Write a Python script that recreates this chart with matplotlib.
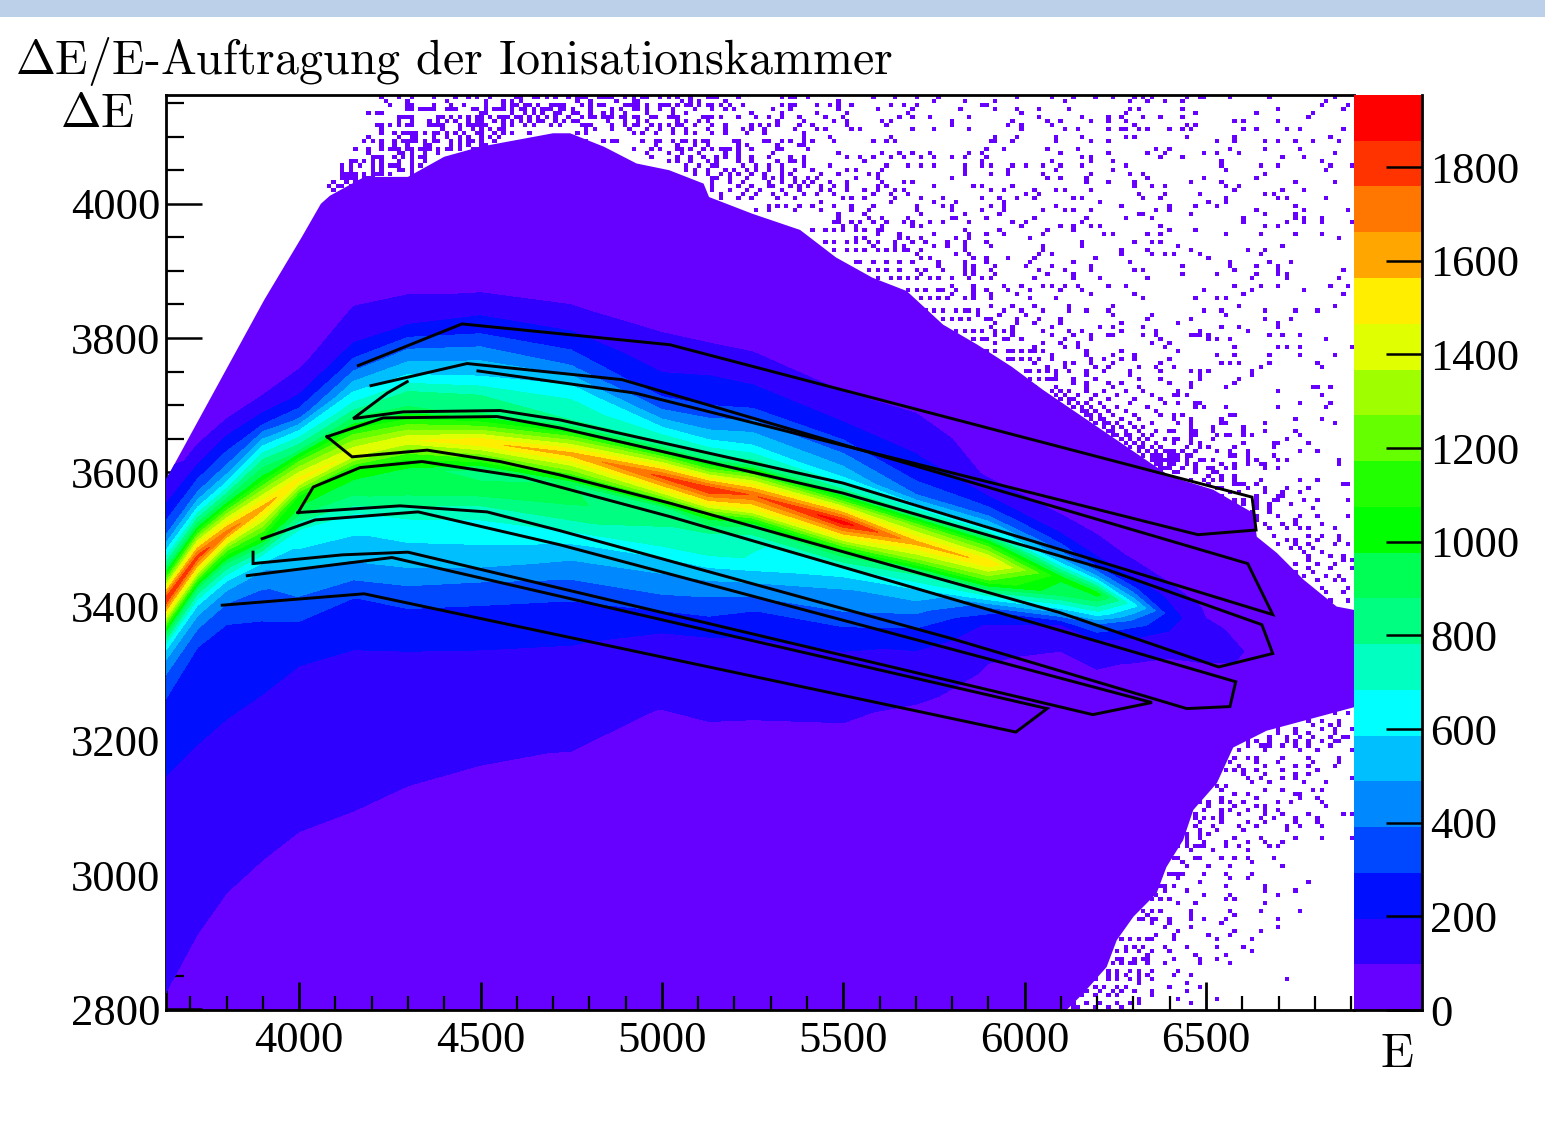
import matplotlib
matplotlib.use('Agg')
import matplotlib.pyplot as plt
from matplotlib.colors import ListedColormap, BoundaryNorm
from matplotlib.patches import Polygon, Rectangle
from matplotlib.ticker import MultipleLocator
import numpy as np

plt.rcParams['mathtext.fontset'] = 'cm'

# band colours of the palette, bottom to top
band_colors = ['#6600ff', '#3000ff', '#0010ff', '#0048ff', '#0088ff', '#00bfff', '#00ffff',
               '#00ffc0', '#00ff80', '#00ff55', '#00ff00', '#22ff00', '#66ff00', '#9fff00',
               '#e0ff00', '#ffee00', '#ffa600', '#ff7700', '#ff3300', '#ff0000']
z_max = 1954

# counts read column by column, rows are distances from the main ridge
col_E = [3625, 3720, 3800, 3900, 4000, 4150, 4300, 4500, 4750, 5000, 5130, 5250, 5500, 5700, 5900,
         6100, 6200, 6300, 6400, 6500, 6920]
ridge_dE = [3404, 3474, 3510, 3547, 3589, 3629, 3648, 3645, 3627, 3593, 3574, 3566, 3525, 3495, 3465,
            3443, 3419, 3402, 3388, 3373, 3313]
row_offset = [800, 500, 330, 270, 220, 170, 130, 95, 70, 45, 25, 0, -25, -45, -70, -95, -130,
              -170, -220, -270, -350, -450, -600, -800, -1100]
counts = [
    [60, 60, 60, 60, 90, 110, 240, 400, 620, 900, 1300, 1850, 1400, 1000, 620, 450, 320, 260, 220, 190, 160, 125, 95, 60, 40],
    [50, 50, 50, 50, 50, 90, 220, 400, 620, 950, 1350, 1800, 1350, 900, 600, 440, 300, 240, 230, 200, 160, 120, 90, 60, 40],
    [50, 50, 50, 50, 60, 95, 250, 420, 630, 950, 1320, 1700, 1200, 880, 600, 430, 300, 260, 240, 200, 150, 115, 85, 50, 40],
    [50, 50, 50, 50, 55, 90, 240, 560, 800, 1000, 1300, 1600, 1300, 1050, 680, 480, 360, 290, 250, 200, 150, 115, 80, 50, 40],
    [50, 50, 50, 50, 60, 85, 180, 350, 620, 850, 1200, 1500, 1050, 950, 700, 610, 500, 400, 270, 200, 150, 115, 80, 50, 40],
    [50, 50, 50, 60, 95, 170, 340, 560, 720, 950, 1200, 1450, 1050, 950, 850, 650, 570, 460, 280, 210, 160, 120, 80, 50, 40],
    [50, 50, 50, 55, 90, 200, 420, 600, 800, 900, 1150, 1450, 1100, 950, 950, 800, 620, 560, 380, 240, 160, 115, 75, 50, 40],
    [50, 50, 50, 55, 100, 250, 450, 600, 780, 850, 1150, 1550, 1150, 800, 950, 780, 620, 560, 340, 240, 150, 105, 70, 50, 40],
    [50, 50, 50, 55, 100, 230, 400, 640, 720, 800, 1200, 1600, 1250, 880, 900, 800, 600, 440, 290, 210, 130, 95, 60, 50, 40],
    [50, 50, 50, 55, 90, 170, 240, 420, 620, 850, 1300, 1780, 1350, 850, 790, 730, 530, 410, 210, 150, 95, 70, 55, 45, 40],
    [50, 50, 50, 55, 95, 195, 270, 450, 615, 850, 1300, 1850, 1400, 950, 740, 700, 510, 350, 195, 140, 95, 75, 55, 45, 40],
    [50, 50, 50, 55, 85, 180, 290, 480, 610, 850, 1300, 1750, 1400, 900, 690, 680, 490, 300, 180, 130, 90, 70, 55, 45, 40],
    [50, 50, 50, 50, 65, 130, 260, 430, 560, 830, 1350, 1900, 1400, 950, 650, 500, 400, 230, 150, 110, 75, 60, 50, 45, 40],
    [50, 50, 50, 50, 60, 130, 200, 280, 400, 760, 1250, 1600, 1250, 800, 580, 440, 280, 170, 110, 80, 65, 55, 50, 45, 40],
    [50, 50, 50, 50, 50, 65, 85, 210, 390, 700, 1150, 1550, 1180, 750, 330, 170, 110, 85, 70, 60, 55, 50, 45, 45, 40],
    [50, 50, 50, 50, 50, 55, 70, 95, 170, 330, 520, 1000, 900, 600, 190, 110, 80, 65, 55, 50, 50, 50, 45, 45, 40],
    [50, 50, 50, 50, 50, 55, 65, 85, 130, 240, 500, 1020, 700, 390, 190, 115, 80, 60, 55, 50, 50, 50, 45, 45, 40],
    [50, 50, 50, 50, 50, 50, 55, 70, 90, 170, 310, 620, 350, 210, 120, 85, 70, 55, 50, 50, 50, 50, 45, 45, 40],
    [50, 50, 50, 50, 50, 50, 55, 60, 70, 100, 170, 240, 190, 130, 90, 70, 55, 50, 50, 50, 50, 50, 45, 45, 40],
    [45, 45, 45, 45, 45, 50, 50, 55, 60, 70, 85, 105, 115, 110, 85, 65, 55, 50, 50, 45, 45, 45, 45, 45, 40],
    [45, 45, 45, 45, 45, 45, 45, 45, 45, 45, 45, 45, 45, 45, 45, 45, 45, 45, 45, 45, 45, 45, 45, 45, 40],
]

# outline of the closed, filled part of the histogram
filled_E = [3633, 3633, 3644, 3904, 4008, 4060, 4085, 4180, 4300, 4400, 4500, 4600, 4700, 4747,
            4840, 4930, 5020, 5115, 5130, 5250, 5381, 5480, 5580, 5675, 5775, 5870, 5965, 6050,
            6401, 6520, 6631, 6640, 6695, 6769, 6860, 6908, 6908, 6667, 6575, 6530, 6465, 6437,
            6391, 6364, 6300, 6254, 6226, 6162, 6116]
filled_dE = [2799, 3590, 3600, 3857, 3951, 4000, 4012, 4040, 4040, 4070, 4085, 4095, 4105, 4105,
             4085, 4060, 4050, 4030, 4010, 3985, 3961, 3920, 3890, 3870, 3820, 3790, 3757, 3723,
             3594, 3574, 3539, 3504, 3480, 3440, 3400, 3395, 3250, 3215, 3190, 3137, 3097, 3052,
             3012, 2973, 2938, 2903, 2863, 2824, 2799]

# single filled bins outside the outline: (dE, [E, ...])
noise_top_left = [
    (4160, [4223, 4269, 4306, 4365, 4434, 4469, 4494, 4526, 4600, 4609, 4646, 4655, 4682, 4703]),
    (4153, [4234, 4296, 4411, 4512, 4563, 4586, 4609]),
    (4149, [4296, 4365, 4457, 4512, 4563, 4586, 4632, 4701, 4719, 4733]),
    (4146, [4249, 4296, 4315, 4365, 4420, 4563, 4595, 4618, 4636, 4664, 4692, 4728]),
    (4141, [4296, 4342, 4365, 4420, 4434, 4480, 4494, 4563, 4613, 4682, 4719]),
    (4138, [4315, 4329, 4356, 4402, 4494, 4512, 4540, 4554, 4586, 4623, 4646, 4673, 4692, 4728]),
    (4134, [4186, 4209, 4223, 4503, 4517, 4586, 4627, 4646, 4673, 4701, 4724]),
    (4129, [4269, 4283, 4296, 4388, 4420, 4466, 4489, 4503, 4549, 4572, 4600, 4636, 4655, 4682, 4701]),
    (4126, [4306, 4379, 4393, 4420, 4448, 4489, 4526, 4563, 4609, 4682]),
    (4122, [4269, 4315, 4361, 4384, 4402, 4434, 4466, 4489, 4503, 4540, 4563, 4581, 4609, 4636, 4655, 4673, 4701, 4728]),
    (4118, [4246, 4269, 4361, 4388, 4489, 4517, 4563, 4586, 4618, 4646, 4692, 4719]),
    (4114, [4209, 4232, 4296, 4315, 4374, 4393, 4443, 4462, 4480, 4503, 4563, 4586]),
    (4109, [4232, 4397, 4443, 4480, 4503, 4526, 4545, 4563]),
    (4106, [4260, 4283, 4296, 4342, 4379, 4411, 4425, 4499, 4563, 4581, 4636]),
    (4102, [4232, 4306, 4319, 4342, 4370, 4434, 4453, 4489, 4508, 4535, 4563]),
    (4099, [4186, 4269, 4306, 4319, 4374, 4402, 4443, 4462, 4503, 4522, 4554]),
    (4095, [4177, 4283, 4296, 4319, 4342, 4370, 4388, 4416, 4448, 4462, 4480, 4508, 4535]),
    (4091, [4200, 4223, 4260, 4315, 4342, 4466, 4503]),
    (4088, [4223, 4260, 4296, 4342, 4361, 4420, 4448, 4471, 4499, 4517]),
    (4083, [4246, 4260, 4273, 4315, 4342, 4420, 4448, 4480, 4517, 4540]),
    (4078, [4154, 4186, 4223, 4278, 4301, 4329, 4356, 4379, 4402, 4448, 4494]),
    (4073, [4186, 4195, 4273, 4287, 4315, 4351, 4388]),
    (4068, [4200, 4214, 4227, 4260, 4292, 4306, 4329, 4351]),
    (4063, [4140, 4154, 4177, 4200, 4232, 4273, 4306, 4342]),
    (4058, [4117, 4140, 4168, 4200, 4232, 4246, 4260, 4273, 4306, 4329]),
    (4052, [4117, 4145, 4200, 4232, 4273, 4292, 4306]),
    (4047, [4117, 4140, 4154, 4200, 4223, 4246, 4310]),
    (4042, [4117, 4131, 4145, 4159, 4177, 4200, 4214]),
    (4037, [4117, 4131, 4145, 4159, 4181, 4195, 4204]),
    (4032, [4094, 4131, 4154, 4168, 4232, 4260]),
    (4025, [4085, 4108, 4122, 4140, 4159, 4177, 4200, 4214, 4227]),
    (4021, [4099, 4140, 4186]),
]
noise_top_mid = [
    (4160, [4747, 4784, 4793, 4821, 4848, 4903, 4922, 4949, 4995, 5023, 5041, 5142, 5207, 5326, 5363]),
    (4156, [4761, 4775, 4839, 4857, 4899, 4926, 4963, 5018, 5073, 5124, 5147, 5349]),
    (4153, [4761, 4807, 4880, 4922, 4940, 5055, 5078, 5101, 5174]),
    (4149, [4775, 4843, 4908, 4935, 4995, 5023, 5064, 5101, 5138, 5161, 5184, 5326, 5349]),
    (4146, [4802, 4830, 4894, 4922, 4958, 5009, 5046, 5082, 5124, 5220, 5372]),
    (4140, [4756, 4802, 4857, 4885, 4926, 4940, 4963, 5000, 5032, 5092, 5138, 5170, 5197, 5303, 5358]),
    (4134, [4756, 4770, 4807, 4839, 4866, 4899, 4963, 5032, 5069, 5243, 5335]),
    (4129, [4747, 4775, 4802, 4848, 4889, 4917, 4972, 5018, 5046, 5138, 5161, 5289, 5381]),
    (4126, [4811, 4839, 4866, 4899, 4931, 4986, 5032, 5110, 5128, 5207, 5257, 5335]),
    (4121, [4752, 4770, 4848, 4894, 4931, 4963, 5037, 5069, 5101, 5124, 5317, 5390]),
    (4118, [4775, 4793, 4903, 4940, 5023, 5050, 5133, 5179, 5243, 5381, 5317]),
    (4114, [4784, 4807, 4866, 4922, 4972, 4995, 5041, 5096, 5142, 5266, 5289, 5321]),
    (4109, [4793, 4820, 4866, 4912, 4963, 4991, 5032, 5069, 5124, 5179, 5220, 5243, 5280, 5372]),
    (4102, [4761, 4788, 4917, 4949, 4986, 5032, 5069, 5096, 5142, 5170, 5229, 5280, 5395]),
    (4095, [4775, 4793, 4857, 4949, 4995, 5050, 5092, 5124, 5216, 5289, 5335]),
    (4091, [4775, 4834, 4880, 4977, 5032, 5069, 5087, 5110, 5197, 5285, 5358]),
    (4087, [4977, 5041, 5087, 5124, 5207, 5234, 5317, 5381, 5395]),
    (4083, [5000, 5050, 5073, 5114, 5161, 5179, 5207, 5326, 5404]),
    (4078, [4926, 4972, 5000, 5041, 5078, 5133, 5161, 5188, 5243, 5321]),
    (4073, [4958, 5014, 5060, 5106, 5179, 5216, 5308]),
    (4068, [4968, 5041, 5078, 5114, 5151, 5174, 5216, 5243, 5298, 5354, 5395]),
    (4063, [5023, 5046, 5078, 5128, 5151, 5207, 5252, 5317, 5358, 5372, 5395]),
    (4057, [5069, 5101, 5133, 5151, 5225, 5262, 5289, 5326, 5395]),
    (4051, [5069, 5096, 5128, 5170, 5202, 5229, 5257, 5298, 5335, 5372]),
    (4046, [5087, 5124, 5161, 5188, 5216, 5248, 5280, 5335, 5349]),
    (4040, [5133, 5156, 5183, 5234, 5280, 5308, 5335, 5372]),
    (4035, [5142, 5188, 5225, 5289, 5335, 5372, 5390]),
    (4028, [5133, 5207, 5243, 5289, 5308, 5349, 5381, 5404]),
    (4022, [5133, 5188, 5234, 5271, 5326, 5381]),
    (4015, [5161, 5225, 5262, 5303, 5344, 5390]),
    (4008, [5161, 5216, 5252, 5317, 5363]),
    (3998, [5289, 5317, 5344, 5381, 5409]),
    (3991, [5262, 5298, 5372]),
]
noise_top_right = [
    (4160, [5406, 5578, 5642, 5706, 5765, 5981, 6075, 6134, 6198, 6237, 6306, 6331, 6355, 6449, 6481, 6498, 6562, 6680, 6857]),
    (4153, [5489, 5745, 5839, 5922, 6109, 6296, 6340, 6387, 6434, 6834]),
    (4148, [5430, 5465, 5489, 5524, 5627, 5661, 5698, 5878, 5898, 6820, 6891]),
    (4140, [5489, 5593, 5688, 5824, 5922, 5981, 6035, 6119, 6291, 6316, 6434, 6695, 6882]),
    (4134, [5430, 5509, 5676, 5986, 6281, 6468, 6633, 6793]),
    (4128, [5455, 5499, 5652, 5688, 5735, 5848, 6038, 6153, 6225, 6272, 6331, 6377, 6434, 6788]),
    (4121, [5391, 5477, 5514, 5607, 5627, 5794, 5971, 6060, 6096, 6178, 6225, 6276, 6577, 6601, 6695]),
    (4114, [5418, 5514, 5617, 5804, 5957, 5991, 6073, 6306, 6449, 6468]),
    (4109, [5430, 5455, 5524, 5548, 5688, 5745, 5851, 5991, 6107, 6144, 6227, 6262, 6281, 6316, 6340, 6401, 6434, 6458, 6601, 6633, 6727, 6763, 6882]),
    (4101, [5396, 5465, 5627, 5922, 5981, 6085, 6153, 6281, 6306, 6449, 6577, 6842]),
    (4095, [5420, 5474, 5617, 5642, 5907, 6188, 6527, 6867]),
    (4090, [5391, 5420, 5583, 5922, 5971, 6085, 6225, 6577, 6660, 6704, 6741, 6798]),
    (4083, [5406, 5898, 5942, 6060, 6144, 6365, 6401, 6565, 6658, 6763]),
    (4077, [5489, 5605, 5652, 5688, 5735, 5848, 5888, 6096, 6225, 6340, 6390, 6498, 6532, 6586, 6857]),
    (4071, [5396, 5514, 5548, 5583, 5627, 5661, 5711, 5745, 5804, 5829, 5898, 6153, 6188, 6375, 6434, 6716, 6773]),
    (4065, [5396, 5558, 5885, 6075, 6178, 6247, 6537, 6818]),
    (4058, [5396, 5465, 5617, 5676, 5720, 5755, 5829, 5888, 5912, 5971, 6001, 6050, 6094, 6153, 6281, 6537, 6645, 6704, 6847, 6901]),
    (4052, [5418, 5509, 5534, 5602, 5839, 5957, 6085, 6237, 6552, 6835]),
    (4046, [5440, 5489, 5568, 5593, 5829, 5907, 5957, 6050, 6178, 6291, 6331, 6658]),
    (4038, [5406, 5430, 5534, 5593, 5804, 6060, 6096, 6166, 6340, 6496, 6633]),
    (4032, [5420, 5465, 5514, 5605, 5661, 5686, 6168, 6225, 6306, 6458, 6540, 6751, 6857]),
    (4026, [5406, 5440, 5479, 5509, 5593, 5622, 5745, 5863, 5888, 5971, 6306, 6355, 6387, 6552, 6586]),
    (4021, [5440, 5465, 5509, 5558, 5593, 5642, 5661, 5907, 5944, 6025, 6085, 6107, 6188, 6577, 6716, 6773]),
    (4015, [5430, 5479, 5578, 5627, 5676, 6001, 6035, 6311, 6387, 6481, 6658, 6685]),
    (4008, [5499, 5524, 5558, 5642, 5711, 5780, 5885, 5932, 5979, 6025, 6131, 6153, 6331, 6377, 6552, 6704, 6727, 6835]),
    (4001, [5435, 5627, 5745, 5814, 5947, 6212, 6506, 6552]),
    (3996, [5479, 5519, 5583, 5701, 5770, 5804, 5907, 5947, 6085, 6272, 6395, 6468, 6527, 6751]),
    (3990, [5440, 5524, 5568, 5701, 5804, 5888, 5947, 6050, 6107, 6131, 6178, 6365, 6401, 6633, 6773, 6887]),
    (3985, [5489, 5558, 5720, 5829, 5932, 6316, 6331, 6458, 6658, 6741]),
    (3981, [5489, 5568, 5602, 5676, 5794, 5814, 5898, 6025, 6168, 6281, 6355, 6601, 6751, 6773, 6820]),
    (3975, [5470, 5490, 5520, 5545, 5580, 5617, 5661, 5696, 5740, 5780, 5848, 5969, 6001, 6153, 6601, 6727, 6773, 6820, 6901]),
    (3969, [5499, 5538, 5607, 5686, 5720, 5991, 6097, 6134, 6178, 6201, 6377, 6668, 6693]),
    (3960, [5420, 5450, 5470, 5500, 5540, 5560, 5600, 5607, 5839, 5932, 6060, 6134, 6401, 6468]),
    (3956, [5593, 5652, 5745, 5848, 5898, 5947, 6050, 6214, 6247, 6340, 6377, 6552, 6645, 6741, 6820]),
    (3950, [5534, 5558, 5652, 5676, 5711, 5814, 5848, 6016, 6867]),
    (3945, [5450, 5470, 5509, 5540, 5568, 5600, 5640, 5696, 5730, 5784, 5834, 5898, 6153, 6306, 6355, 6377]),
    (3939, [5583, 5642, 5661, 5755, 5784, 5829, 5907, 6050, 6153, 6422, 6716]),
    (3931, [5480, 5510, 5530, 5560, 5590, 5617, 5640, 5661, 5680, 5711, 5829, 6050, 6262, 6340, 6458, 6611, 6658]),
    (3925, [5706, 5814, 5851, 6035, 6070, 6262, 6355, 6387, 6412, 6481, 6645]),
    (3919, [5711, 5735, 5853, 5893, 5952, 6030, 6198, 6506]),
    (3915, [5530, 5550, 5580, 5620, 5660, 5690]),
    (3913, [5760, 5834, 5898, 6016, 6129, 6286, 6565, 6680, 6739]),
    (3907, [5765, 5834, 5863, 5922, 6001, 6070, 6178, 6434, 6565, 6633, 6693]),
    (3900, [5570, 5600, 5620, 5650, 5700, 5730, 5770, 5829, 5863, 5907, 6035, 6109, 6188, 6306, 6331, 6575, 6693, 6882]),
    (3893, [5720, 5829, 5863, 5922, 6060, 6129, 6439, 6527, 6633, 6693, 6727]),
    (3886, [5600, 5630, 5650, 5680, 5700, 5740, 5765, 5804, 5843, 5888, 5912, 6030, 6129, 6212, 6340, 6621, 6727, 6867]),
    (3879, [5794, 5863, 5942, 6225, 6281, 6693]),
    (3874, [5804, 5853, 5991, 6050, 6075, 6107, 6144, 6575, 6645, 6847, 6891]),
    (3868, [5680, 5700, 5730, 5760, 5780, 5814, 5863, 5893, 5957, 6016, 6094, 6158, 6496, 6621, 6773]),
    (3863, [5804, 5863, 5912, 5981, 6188, 6306, 6601, 6882]),
    (3856, [5720, 5740, 5760, 5790, 5830, 5863, 5907, 6011, 6085, 6331, 6468, 6527, 6552]),
    (3849, [5907, 5962, 6030, 6119, 6237, 6586, 6855]),
    (3843, [5730, 5750, 5770, 5810, 5830, 5850, 5873, 5942, 5996, 6050, 6119, 6166, 6225, 6496, 6540, 6668, 6751, 6808]),
    (3837, [5873, 5932, 6001, 6247, 6350, 6559]),
    (3829, [5780, 5800, 5820, 5850, 5890, 5912, 5981, 6038, 6094, 6340, 6458, 6658, 6739]),
    (3825, [5920, 5976, 6030, 6104, 6262, 6424, 6704]),
    (3818, [5912, 5962, 6075, 6203, 6237, 6331, 6547, 6586, 6695]),
    (3813, [5810, 5830, 5860, 5888, 5920, 5940, 5971, 6050, 6119, 6158, 6272, 6365, 6481, 6611]),
    (3807, [5962, 6075, 6225, 6247, 6463, 6508, 6680, 6716, 6763]),
    (3802, [5922, 5971, 6139, 6178, 6331, 6365, 6468, 6481]),
    (3798, [5860, 5880, 5898, 5940, 5960, 5990, 6109, 6178, 6377, 6508, 6532, 6562, 6835]),
    (3792, [5922, 6050, 6099, 6144, 6345, 6401]),
    (3786, [6021, 6109, 6144, 6387, 6577, 6693, 6727, 6763, 6901]),
    (3780, [5900, 5920, 5950, 5970, 5990, 6011, 6030, 6050, 6168, 6272, 6424]),
    (3775, [6080, 6168, 6242, 6306, 6527, 6577, 6680, 6763, 6855]),
    (3767, [5950, 5970, 5990, 6020, 6040, 6070, 6183, 6222, 6272, 6306, 6401]),
    (3762, [6030, 6109, 6139, 6178, 6247, 6377, 6540, 6565, 6586, 6680, 6810]),
    (3757, [6060, 6109, 6198, 6227, 6316, 6365, 6412, 6645, 6820]),
    (3750, [6000, 6020, 6040, 6060, 6090, 6119, 6168, 6217, 6291, 6377, 6454, 6481, 6508, 6621]),
    (3744, [6089, 6168, 6291, 6481, 6621]),
    (3738, [6020, 6040, 6060, 6070, 6090, 6139, 6198, 6316, 6377, 6481, 6586]),
    (3730, [6129, 6168, 6227, 6272, 6395, 6458, 6577]),
    (3725, [6021, 6089, 6168, 6247, 6316, 6463, 6552, 6798, 6810, 6847]),
]
noise_fringe = [
    (3720, [6075, 6098, 6122, 6170, 6220, 6280, 6330]), (3714, [6086, 6110, 6146, 6194, 6260, 6350]),
    (3708, [6098, 6122, 6134, 6182, 6230, 6300, 6370]), (3702, [6122, 6146, 6170, 6206, 6290, 6390]),
    (3696, [6134, 6158, 6182, 6218, 6254, 6340]), (3690, [6158, 6170, 6194, 6230, 6278, 6360]),
    (3684, [6170, 6182, 6206, 6242, 6302, 6380]), (3678, [6182, 6206, 6218, 6266, 6314]),
    (3672, [6194, 6218, 6230, 6254, 6290, 6350]), (3666, [6218, 6242, 6266, 6302, 6326]),
    (3660, [6230, 6242, 6278, 6314, 6362, 6395]), (3654, [6242, 6254, 6278, 6290, 6326, 6350]),
    (3648, [6266, 6290, 6314, 6338, 6385]), (3642, [6278, 6302, 6326, 6362]),
    (3636, [6290, 6314, 6326, 6350, 6374]), (3630, [6314, 6338, 6362]),
    (3624, [6326, 6350, 6374, 6395]), (3618, [6350, 6362, 6385]), (3612, [6362, 6374, 6398]),
    (3606, [6374, 6398]),
    (3628, [6341, 6382, 6401, 6437, 6465, 6529]), (3623, [6368, 6419, 6456, 6575, 6612]),
    (3616, [6373, 6401, 6428, 6483, 6520, 6639]), (3609, [6382, 6437, 6511, 6575]),
    (3603, [6378, 6419, 6474, 6529]), (3596, [6511, 6538, 6575]), (3589, [6401, 6456, 6520, 6584]),
    (3583, [6447, 6594, 6639]), (3574, [6456, 6529]),
]
noise_right = [
    (3720, [6424, 6704]), (3712, [6406, 6424, 6447, 6819]), (3704, [6424, 6475, 6484, 6759, 6847]),
    (3697, [6470, 6493, 6553, 6695, 6833]), (3683, [6415, 6433, 6566, 6576]),
    (3677, [6415, 6461, 6539, 6746, 6819]), (3671, [6424, 6461, 6539, 6557, 6658, 6856]),
    (3666, [6461, 6516, 6603]), (3659, [6406, 6456, 6470, 6516, 6603, 6658, 6741]),
    (3653, [6456, 6470, 6530, 6553, 6566, 6599, 6631, 6755]), (3646, [6406, 6424, 6461, 6516, 6727]),
    (3640, [6415, 6461, 6479, 6608, 6681, 6704, 6787]), (3634, [6447, 6479, 6507, 6576, 6681]),
    (3628, [6406, 6433, 6475, 6571, 6617, 6764, 6810]), (3623, [6415, 6447, 6566, 6686]),
    (3616, [6415, 6447, 6484, 6497, 6612, 6640, 6695, 6718, 6870]),
    (3610, [6415, 6447, 6475, 6539, 6576, 6612, 6649, 6668, 6870]),
    (3605, [6433, 6470, 6516, 6553, 6668, 6695]), (3599, [6415, 6475, 6516]),
    (3591, [6493, 6539, 6576, 6649, 6764, 6810]), (3584, [6502, 6576, 6608, 6888, 6879]),
    (3576, [6539, 6612, 6658, 6718, 6787]), (3572, [6562, 6585, 6658, 6713, 6764]),
    (3564, [6525, 6548, 6640, 6695, 6713]), (3560, [6608, 6640, 6773, 6704]),
    (3557, [6539, 6576, 6640, 6686, 6801, 6893]), (3550, [6530, 6576, 6608, 6640, 6677, 6732]),
    (3545, [6539, 6576, 6640, 6677, 6796]), (3539, [6631, 6677]),
    (3533, [6548, 6603, 6640, 6695, 6764, 6810, 6893]), (3527, [6576, 6640, 6746]),
    (3522, [6631, 6658, 6713, 6741, 6819]), (3514, [6677, 6723, 6759, 6787, 6856]),
    (3507, [6686, 6787, 6815, 6865]), (3499, [6723, 6750, 6805, 6870]),
    (3493, [6695, 6750, 6787, 6856, 6893]), (3489, [6732, 6759, 6796]), (3482, [6769, 6815]),
    (3476, [6778, 6842, 6879]), (3470, [6787, 6879, 6902]), (3463, [6750, 6860, 6805]),
    (3457, [6778, 6842, 6902]), (3451, [6750, 6796]), (3445, [6769, 6833, 6870]),
    (3437, [6750, 6805, 6851, 6879]), (3427, [6769, 6824, 6893]), (3420, [6833, 6883]),
    (3407, [6741, 6842, 6888]),
]
noise_low = [
    (3244, [6741, 6869]), (3239, [6732, 6773, 6851, 6892]), (3231, [6777, 6814, 6869]),
    (3225, [6681, 6800, 6837, 6869]), (3219, [6695, 6741, 6814, 6851, 6897]),
    (3212, [6630, 6695, 6741, 6787, 6851]), (3206, [6589, 6676, 6722, 6760, 6800, 6840, 6879, 6890]),
    (3199, [6612, 6635, 6680, 6720, 6750, 6777, 6820, 6860, 6865]),
    (3191, [6620, 6650, 6667, 6680, 6710, 6713, 6741, 6787, 6837]),
    (3184, [6589, 6667, 6759, 6805, 6897]), (3177, [6580, 6610, 6612, 6640, 6713, 6777, 6869]),
    (3169, [6566, 6644, 6699, 6800, 6865]), (3162, [6594, 6658, 6745, 6787, 6851]),
    (3154, [6529, 6550, 6580, 6600, 6640, 6713, 6805]), (3149, [6502, 6603, 6667, 6750, 6787]),
    (3143, [6428, 6612, 6649, 6713, 6750, 6901]), (3137, [6621, 6676, 6773, 6833]),
    (3130, [6535, 6560]), (3128, [6548, 6667, 6713, 6791, 6819]), (3122, [6419, 6575, 6612, 6741, 6764]),
    (3116, [6539, 6640, 6764, 6810]), (3109, [6474, 6485, 6510, 6545, 6566, 6603, 6704, 6732, 6814]),
    (3103, [6437, 6511, 6575, 6640, 6667, 6833]), (3097, [6493, 6539, 6566, 6617, 6667, 6704]),
    (3090, [6474, 6539, 6594, 6667, 6713, 6787, 6879, 6901]),
    (3085, [6470, 6495, 6520]), (3083, [6520, 6543, 6649, 6681, 6750, 6810]),
    (3077, [6483, 6543, 6612, 6667, 6741, 6805]), (3071, [6474, 6520, 6594, 6640, 6718, 6764, 6819]),
    (3065, [6392, 6483, 6529, 6603, 6722]), (3060, [6445, 6480, 6510]),
    (3057, [6447, 6483, 6584, 6649, 6750, 6819, 6901]),
    (3050, [6447, 6493, 6557, 6612, 6667, 6713]), (3042, [6419, 6445, 6470, 6483, 6490, 6557, 6594, 6676, 6704]),
    (3035, [6456, 6520, 6617]), (3027, [6483, 6612]), (3022, [6405, 6425, 6470, 6548, 6584, 6681]),
    (3018, [6437, 6630]), (3010, [6447, 6502, 6566, 6713]), (3003, [6395, 6415, 6428, 6440, 6493, 6557, 6630]),
    (2995, [6428, 6566, 6617]), (2990, [6483, 6787]), (2983, [6370, 6385, 6410, 6557, 6658]),
    (2978, [6392, 6447, 6658, 6741]), (2970, [6364, 6493, 6566, 6704]), (2964, [6355, 6380, 6395, 6401, 6557, 6575]),
    (2957, [6428, 6474, 6658]), (2948, [6330, 6345, 6355, 6370, 6456, 6566, 6649, 6759]), (2940, [6336, 6456, 6575]),
    (2933, [6310, 6330, 6346, 6365, 6401, 6456, 6497, 6557, 6704]), (2926, [6346, 6401, 6539]), (2921, [6382, 6456, 6704]),
    (2916, [6428, 6575, 6649]), (2909, [6364, 6410, 6506, 6566]), (2903, [6270, 6290, 6318, 6341, 6346, 6414, 6529, 6621]),
    (2894, [6280, 6300, 6325, 6392, 6447, 6529, 6598]), (2888, [6309, 6401, 6621]),
    (2885, [6250, 6280, 6318, 6355]), (2881, [6336, 6474, 6552]),
    (2875, [6250, 6265, 6300, 6325, 6336, 6410, 6483, 6529]), (2866, [6240, 6265, 6285, 6300, 6340, 6382, 6483, 6566]),
    (2858, [6230, 6250, 6290, 6310, 6346, 6419]), (2851, [6235, 6260, 6275, 6309, 6335, 6405, 6460]),
    (2845, [6200, 6225, 6260, 6290, 6318, 6346, 6722]), (2839, [6314, 6447]), (2835, [6190, 6215, 6250, 6275]),
    (2831, [6401, 6483]), (2826, [6170, 6210, 6245, 6265, 6300, 6355, 6447]), (2819, [6160, 6195, 6230, 6250, 6355]),
    (2814, [6318, 6424, 6529]), (2810, [6140, 6175, 6210, 6250, 6290]), (2806, [6318, 6456]),
    (2803, [6130, 6150, 6190, 6235, 6270]),
]

# the graphical cuts
cut_a_E = [4163, 4449, 5022, 6627, 6638, 6478, 4926, 4493]
cut_a_dE = [3759, 3821, 3790, 3563, 3514, 3507, 3718, 3751]
cut_b_E = [4198, 4463, 4890, 6615, 6684, 5499, 4719, 4554, 4287, 4149, 4243, 4298]
cut_b_dE = [3729, 3762, 3738, 3464, 3388, 3584, 3678, 3692, 3690, 3680, 3718, 3735]
cut_c_E = [4077, 4232, 4546, 4719, 5499, 6227, 6654, 6684, 6535, 6097, 5022, 4719, 4554, 4353, 4146, 4077]
cut_c_dE = [3653, 3681, 3683, 3666, 3569, 3455, 3373, 3330, 3310, 3391, 3554, 3596, 3616, 3633, 3623, 3653]
cut_d_E = [3997, 4039, 4168, 4339, 4617, 4719, 5022, 6582, 6566, 6447, 5794, 4719, 4518, 4278, 3997]
cut_d_dE = [3540, 3578, 3607, 3616, 3593, 3578, 3534, 3288, 3251, 3248, 3353, 3513, 3541, 3550, 3540]
cut_e_E = [3873, 3873, 4119, 4300, 6188, 6351, 4719, 4328, 4044, 3898]
cut_e_dE = [3481, 3464, 3477, 3481, 3239, 3257, 3492, 3541, 3529, 3501]
cut_f_E = [3857, 4256, 6062, 5976, 4179, 3788]
cut_f_dE = [3446, 3473, 3248, 3213, 3419, 3402]

fig = plt.figure(figsize=(15.45, 11.25), dpi=100)
fig.add_artist(Rectangle((0, 1 - 17 / 1125), 1, 17 / 1125, transform=fig.transFigure,
                         color='#bdd0ea', lw=0))

ax = fig.add_axes([166 / 1545, 115 / 1125, 1188 / 1545, 915 / 1125])

outline = Polygon(list(zip(filled_E, filled_dE)), closed=True, facecolor='#6600ff', edgecolor='none', zorder=1)
ax.add_patch(outline)

noise = noise_top_left + noise_top_mid + noise_top_right + noise_fringe + noise_right + noise_low
hit_E = [e for row, es in noise for e in es]
hit_dE = [row for row, es in noise for e in es]
ax.hist2d(hit_E, hit_dE, bins=[np.arange(3633, 6920, 12), np.arange(2800, 4170, 6)], cmin=1,
          cmap=ListedColormap(['#6600ff']), zorder=2)

levels = np.linspace(0, z_max, 21)
grid_E = np.array(col_E)[:, None] * np.ones((1, len(row_offset)))
grid_dE = np.array(ridge_dE)[:, None] + np.array(row_offset)[None, :]
cs = ax.contourf(grid_E, grid_dE, np.array(counts), levels=levels[1:], colors=band_colors[1:], zorder=3)
cs.set_clip_path(outline)

for e, d in [(cut_a_E, cut_a_dE), (cut_b_E, cut_b_dE), (cut_c_E, cut_c_dE),
             (cut_d_E, cut_d_dE), (cut_e_E, cut_e_dE), (cut_f_E, cut_f_dE)]:
    ax.plot(e, d, color='black', lw=2.1, zorder=4, solid_joinstyle='miter')

ax.set_xlim(3633, 6908)
ax.set_ylim(2799, 4162)
ax.xaxis.set_major_locator(MultipleLocator(500))
ax.xaxis.set_minor_locator(MultipleLocator(100))
ax.yaxis.set_major_locator(MultipleLocator(200))
ax.yaxis.set_minor_locator(MultipleLocator(50))
ax.tick_params(axis='x', which='major', direction='in', length=20, width=2, pad=8,
               labelsize=32, labelfontfamily='Liberation Serif', zorder=6)
ax.tick_params(axis='x', which='minor', direction='in', length=10, width=1.6, zorder=6)
ax.tick_params(axis='y', which='major', direction='in', length=26, width=1.8, pad=4,
               labelsize=32, labelfontfamily='Liberation Serif', zorder=6)
ax.tick_params(axis='y', which='minor', direction='in', length=13, width=1.6, zorder=6)
ax.spines['right'].set_visible(False)
for side in ['left', 'bottom', 'top']:
    ax.spines[side].set_linewidth(2)
ax.set_axisbelow(False)

# palette
cax = fig.add_axes([1354 / 1545, 115 / 1125, 68 / 1545, 915 / 1125])
cax.pcolormesh([0, 1], levels, np.arange(20)[:, None], cmap=ListedColormap(band_colors),
               norm=BoundaryNorm(np.arange(-0.5, 20.5), 20))
cax.set_xlim(0, 1)
cax.set_ylim(0, z_max)
cax.set_xticks([])
cax.yaxis.tick_right()
cax.set_yticks(np.arange(0, 1801, 200))
cax.tick_params(axis='y', direction='in', length=26, width=1.8, pad=6, labelsize=32,
                labelfontfamily='Liberation Serif')
for side in ['left', 'top']:
    cax.spines[side].set_visible(False)
cax.spines['right'].set_linewidth(2)
cax.spines['bottom'].set_linewidth(2)

fig.text(15 / 1545, 1 - 74 / 1125, r'$\Delta$E/E-Auftragung der Ionisationskammer',
         family='cmr10', fontsize=34.5, ha='left', va='baseline')
fig.text(60 / 1545, 1 - 127 / 1125, r'$\Delta$E', family='cmr10', fontsize=35, ha='left', va='baseline')
fig.text(1380 / 1545, 1 - 1067 / 1125, 'E', family='cmr10', fontsize=35, ha='left', va='baseline')

fig.savefig('out.png', dpi=100)
